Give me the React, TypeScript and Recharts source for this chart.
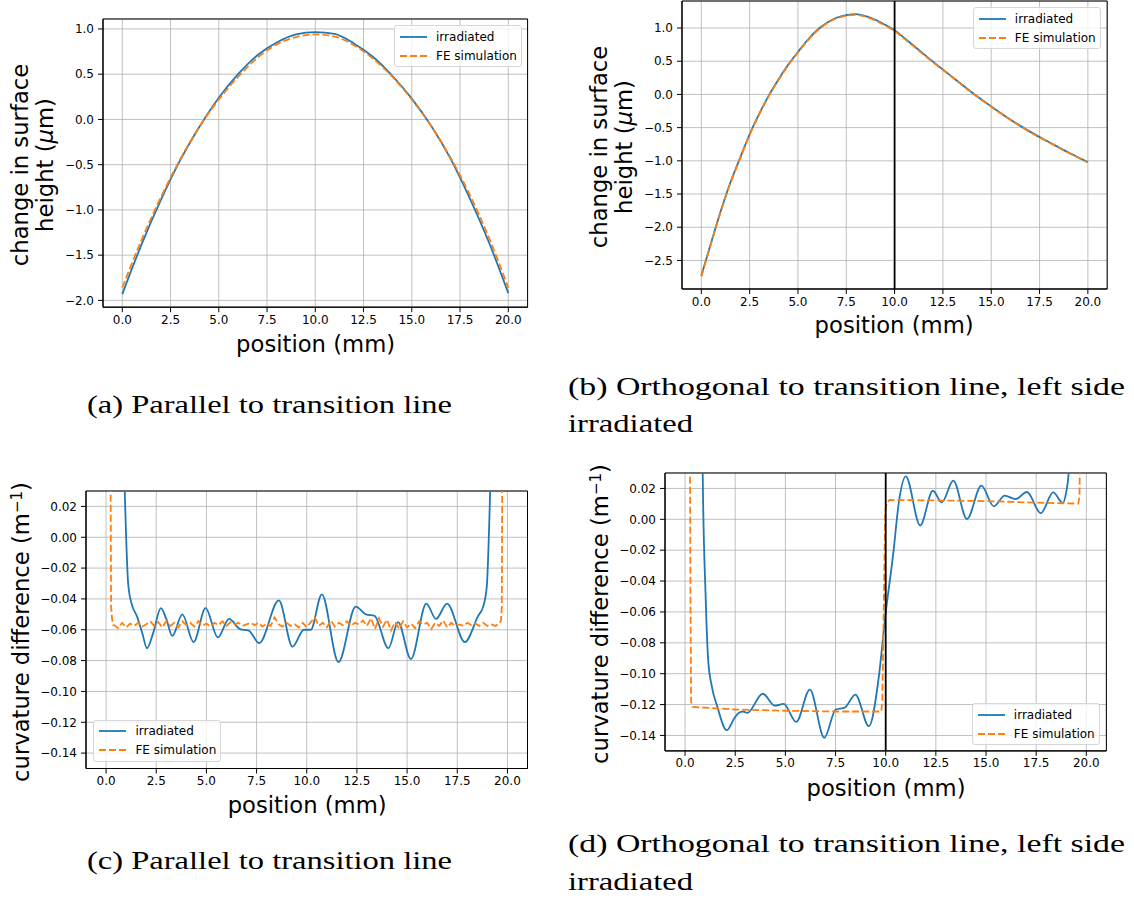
import React from 'react';
import {
  LineChart,
  Line,
  XAxis,
  YAxis,
  CartesianGrid,
  ReferenceLine,
  ReferenceArea,
  Legend,
} from 'recharts';

const BLUE = '#1f77b4';
const ORANGE = '#ff7f0e';
const SANS = '"DejaVu Sans", Verdana, sans-serif';
const SERIF = '"Liberation Serif", "Times New Roman", serif';
const FE_DASH = '7 3';

// shared x axis (position along the sample, mm)
const positionTicks = [0, 2.5, 5, 7.5, 10, 12.5, 15, 17.5, 20];
const positionDomain: [number, number] = [-1, 21];

// (a) surface height, profile parallel to the transition line
const parPos = [0, 1, 2, 3, 4, 5, 6, 7, 8, 9, 10, 11, 12, 13, 14, 15, 16, 17, 18, 19, 20];
const parHeightIrr = [-1.93, -1.38, -0.89, -0.45, -0.08, 0.24, 0.5, 0.71, 0.85, 0.94, 0.965, 0.945, 0.84, 0.69, 0.48, 0.23, -0.07, -0.43, -0.87, -1.36, -1.92];
const parHeightFe = [-1.86, -1.33, -0.86, -0.44, -0.08, 0.22, 0.47, 0.68, 0.83, 0.91, 0.94, 0.915, 0.82, 0.67, 0.47, 0.22, -0.07, -0.42, -0.83, -1.31, -1.86];
const parHeightTicks = [-2, -1.5, -1, -0.5, 0, 0.5, 1];

// (b) surface height, profile orthogonal to the transition line
const orthPos = [0, 0.5, 1, 1.5, 2, 2.5, 3, 3.5, 4, 4.5, 5, 5.5, 6, 6.5, 7, 7.5, 8, 8.5, 9, 9.5, 10, 10.5, 11, 11.5, 12, 13, 14, 15, 16, 17, 18, 19, 20];
const orthHeightIrr = [-2.73, -2.24, -1.76, -1.33, -0.96, -0.6, -0.29, -0.01, 0.23, 0.45, 0.64, 0.82, 0.97, 1.08, 1.155, 1.195, 1.21, 1.18, 1.125, 1.05, 0.965, 0.85, 0.73, 0.61, 0.49, 0.26, 0.03, -0.18, -0.38, -0.56, -0.72, -0.875, -1.02];
const orthHeightFe = [-2.74, -2.25, -1.77, -1.34, -0.97, -0.61, -0.3, -0.02, 0.22, 0.44, 0.63, 0.81, 0.96, 1.07, 1.145, 1.185, 1.198, 1.17, 1.115, 1.04, 0.955, 0.84, 0.72, 0.6, 0.48, 0.255, 0.025, -0.185, -0.385, -0.565, -0.725, -0.88, -1.025];
const orthHeightTicks = [-2.5, -2, -1.5, -1, -0.5, 0, 0.5, 1];

// (c) curvature difference, parallel profile
const parCurvIrrPos = [0.86, 0.93, 1.0, 1.1, 1.27, 1.53, 1.8, 2.04, 2.35, 2.73, 3.0, 3.3, 3.8, 4.36, 4.96, 5.57, 6.13, 6.68, 7.11, 7.63, 8.61, 9.29, 9.86, 10.2, 10.75, 11.58, 12.44, 12.95, 13.38, 14.07, 14.55, 15.19, 15.96, 16.44, 16.99, 17.88, 18.54, 18.79, 18.97, 19.14, 19.2];
const parCurvIrr = [0.055, 0.03, 0.0, -0.03, -0.043, -0.051, -0.062, -0.072, -0.062, -0.046, -0.053, -0.064, -0.05, -0.068, -0.046, -0.065, -0.053, -0.0596, -0.0605, -0.0687, -0.041, -0.071, -0.06, -0.06, -0.037, -0.081, -0.045, -0.05, -0.051, -0.072, -0.055, -0.079, -0.043, -0.053, -0.043, -0.068, -0.051, -0.045, -0.032, 0.03, 0.06];
const parCurvFePos = [0.22, 0.25, 0.3, 0.36, 0.4, 0.6, 0.8, 1.0, 1.2, 1.4, 1.6, 1.8, 2.0, 2.2, 2.4, 2.6, 2.8, 3.0, 3.2, 3.4, 3.6, 3.8, 4.0, 4.2, 4.4, 4.6, 4.8, 5.0, 5.2, 5.4, 5.6, 5.8, 6.0, 6.2, 6.4, 6.6, 6.8, 7.0, 7.2, 7.4, 7.6, 7.8, 8.0, 8.2, 8.4, 8.6, 8.8, 9.0, 9.2, 9.4, 9.6, 9.8, 10.0, 10.2, 10.4, 10.6, 10.8, 11.0, 11.2, 11.4, 11.6, 11.8, 12.0, 12.2, 12.4, 12.6, 12.8, 13.0, 13.2, 13.4, 13.6, 13.8, 14.0, 14.2, 14.4, 14.6, 14.8, 15.0, 15.2, 15.4, 15.6, 15.8, 16.0, 16.2, 16.4, 16.6, 16.8, 17.0, 17.2, 17.4, 17.6, 17.8, 18.0, 18.2, 18.4, 18.6, 18.8, 19.0, 19.2, 19.4, 19.6, 19.68, 19.72, 19.74, 19.76];
const parCurvFe = [0.06, -0.045, -0.053, -0.057, -0.057, -0.059, -0.0555, -0.0585, -0.056, -0.0575, -0.0555, -0.058, -0.0565, -0.0545, -0.0575, -0.055, -0.0585, -0.0545, -0.0575, -0.0555, -0.0585, -0.0545, -0.057, -0.0555, -0.058, -0.0545, -0.0575, -0.056, -0.058, -0.0555, -0.057, -0.0545, -0.0575, -0.055, -0.0565, -0.0555, -0.0575, -0.0565, -0.0555, -0.057, -0.0555, -0.058, -0.056, -0.0575, -0.052, -0.0565, -0.058, -0.0555, -0.0575, -0.0565, -0.0585, -0.0555, -0.0585, -0.055, -0.052, -0.0575, -0.0555, -0.0585, -0.054, -0.058, -0.0555, -0.057, -0.0545, -0.0575, -0.0555, -0.0565, -0.054, -0.0575, -0.0525, -0.0595, -0.0525, -0.058, -0.0535, -0.0605, -0.055, -0.0595, -0.0545, -0.0585, -0.056, -0.059, -0.0545, -0.0565, -0.0555, -0.0595, -0.0555, -0.0575, -0.054, -0.0585, -0.0555, -0.0575, -0.0565, -0.0575, -0.0555, -0.057, -0.056, -0.0575, -0.0555, -0.0575, -0.0565, -0.0575, -0.056, -0.054, -0.045, 0.03, 0.06];

// (d) curvature difference, orthogonal profile
const orthCurvIrrPos = [0.86, 0.88, 1.02, 1.15, 1.33, 1.6, 2.08, 2.45, 2.67, 2.9, 3.1, 3.87, 4.48, 4.91, 5.54, 6.22, 6.94, 7.51, 7.96, 8.49, 9.16, 9.66, 9.98, 10.38, 10.65, 11.0, 11.72, 12.35, 12.8, 13.37, 14.05, 14.77, 15.39, 15.93, 16.47, 17.04, 17.73, 18.35, 18.83, 19.0, 19.12, 19.18];
const orthCurvIrr = [0.06, 0.03, -0.0477, -0.0909, -0.108, -0.121, -0.1366, -0.129, -0.1254, -0.1245, -0.1254, -0.113, -0.1207, -0.1196, -0.1312, -0.1103, -0.1415, -0.1232, -0.122, -0.1135, -0.134, -0.1017, -0.0628, -0.0218, 0.0105, 0.0278, -0.004, 0.0185, 0.011, 0.025, 0.0002, 0.0218, 0.0084, 0.0153, 0.0131, 0.0177, 0.004, 0.0174, 0.0106, 0.018, 0.03, 0.06];
const orthCurvFePos = [0.24, 0.27, 0.3, 0.38, 2.5, 5.0, 7.5, 9.6, 9.78, 9.83, 9.9, 9.98, 10.05, 10.2, 12.5, 15.0, 17.5, 19.6, 19.66, 19.7];
const orthCurvFe = [0.06, -0.05, -0.118, -0.1215, -0.1232, -0.124, -0.1245, -0.1245, -0.1245, -0.118, -0.06, 0.005, 0.011, 0.0125, 0.0122, 0.0118, 0.0108, 0.0102, 0.015, 0.06];

const curvTicks = [-0.14, -0.12, -0.1, -0.08, -0.06, -0.04, -0.02, 0, 0.02];
const curvDomain: [number, number] = [-0.15, 0.03];

// legend entries, in drawing order
const seriesNames = ['irradiated', 'FE simulation'];
const legendStyles: Record<string, { color: string; dash?: string }> = {
  irradiated: { color: BLUE },
  'FE simulation': { color: ORANGE, dash: FE_DASH },
};

const zip = (xs: number[], ys: number[]) => xs.map((x, i) => ({ x, y: ys[i] }));
const fmt = (digits: number) => (v: number) => v.toFixed(digits).replace('-', '\u2212');

const YW = 60;
const XH = 30;
const MT = 8;
const MR = 10;

type Box = { left: number; top: number; width: number; height: number };
type Corner = 'ur' | 'll' | 'lr';

function LegendBox(props: any) {
  const payload = [...(props.payload || [])].sort(
    (a: any, b: any) => seriesNames.indexOf(a.value) - seriesNames.indexOf(b.value)
  );
  return (
    <div
      style={{
        border: '1px solid #d6d6d6',
        borderRadius: 3,
        background: 'rgba(255,255,255,0.8)',
        padding: '1px 4px 1px 5px',
        fontFamily: SANS,
        fontSize: 12,
        color: '#000',
        whiteSpace: 'nowrap',
      }}
    >
      {payload.map((p: any) => {
        const st = legendStyles[p.value] || { color: p.color };
        return (
          <div key={p.value} style={{ display: 'flex', alignItems: 'center', height: 19 }}>
            <svg width={27} height={4} style={{ display: 'block' }}>
              <line x1={0} y1={2} x2={27} y2={2} stroke={st.color} strokeWidth={1.8} strokeDasharray={st.dash} />
            </svg>
            <span style={{ marginLeft: 9 }}>{p.value}</span>
          </div>
        );
      })}
    </div>
  );
}

function legendPlacement(corner: Corner): React.CSSProperties {
  if (corner === 'ur') return { top: MT + 6, right: MR + 6, left: 'auto', bottom: 'auto', width: 'auto', height: 'auto' };
  if (corner === 'll') return { top: 'auto', bottom: XH + 7, left: YW + 7, right: 'auto', width: 'auto', height: 'auto' };
  return { top: 'auto', bottom: XH + 6, right: MR + 7, left: 'auto', width: 'auto', height: 'auto' };
}

type PanelProps = {
  box: Box;
  yDomain: [number, number];
  yTicks: number[];
  yDigits: number;
  irr: { x: number; y: number }[];
  fe: { x: number; y: number }[];
  feCurve: 'monotone' | 'linear';
  legend: Corner;
  divider?: boolean;
  yLabel: React.ReactNode;
  yLabelOffset: number;
  xLabelOffset: number;
};

function Panel({ box, yDomain, yTicks, yDigits, irr, fe, feCurve, legend, divider, yLabel, yLabelOffset, xLabelOffset }: PanelProps) {
  const { left, top, width, height } = box;
  const tickStyle = { fill: '#000', fontSize: 12, fontFamily: SANS };
  return (
    <>
      <div style={{ position: 'absolute', left: left - YW, top: top - MT }}>
        <LineChart width={width + YW + MR} height={height + MT + XH} margin={{ top: MT, right: MR, bottom: 0, left: 0 }}>
          <CartesianGrid stroke="#b0b0b0" strokeWidth={0.8} />
          <XAxis
            type="number"
            dataKey="x"
            domain={positionDomain}
            ticks={positionTicks}
            interval={0}
            allowDataOverflow
            height={XH}
            tickFormatter={fmt(1)}
            tick={tickStyle}
            tickSize={5}
            tickMargin={3}
            axisLine={{ stroke: '#000' }}
            tickLine={{ stroke: '#000' }}
          />
          <YAxis
            type="number"
            dataKey="y"
            domain={yDomain}
            ticks={yTicks}
            interval={0}
            allowDataOverflow
            width={YW}
            tickFormatter={fmt(yDigits)}
            tick={tickStyle}
            tickSize={5}
            tickMargin={4}
            axisLine={{ stroke: '#000' }}
            tickLine={{ stroke: '#000' }}
          />
          <Line
            data={irr}
            dataKey="y"
            name="irradiated"
            type="monotone"
            stroke={BLUE}
            strokeWidth={1.8}
            dot={false}
            activeDot={false}
            isAnimationActive={false}
          />
          <Line
            data={fe}
            dataKey="y"
            name="FE simulation"
            type={feCurve}
            stroke={ORANGE}
            strokeWidth={1.8}
            strokeDasharray={FE_DASH}
            dot={false}
            activeDot={false}
            isAnimationActive={false}
          />
          {divider && <ReferenceLine x={10} stroke="#000" strokeWidth={1.8} />}
          <ReferenceArea
            x1={positionDomain[0]}
            x2={positionDomain[1]}
            y1={yDomain[0]}
            y2={yDomain[1]}
            fill="none"
            stroke="#000"
            strokeWidth={1}
          />
          <Legend
            layout="vertical"
            align="center"
            verticalAlign="middle"
            content={<LegendBox />}
            wrapperStyle={legendPlacement(legend)}
          />
        </LineChart>
      </div>
      <div
        style={{
          position: 'absolute',
          left: left + width / 2,
          top: top + height + xLabelOffset,
          transform: 'translate(-50%, -50%)',
          fontFamily: SANS,
          fontSize: 22.7,
          whiteSpace: 'nowrap',
          color: '#000',
        }}
      >
        position (mm)
      </div>
      <div
        style={{
          position: 'absolute',
          left: left - yLabelOffset,
          top: top + height / 2 + 2,
          transform: 'translate(-50%, -50%) rotate(-90deg)',
          fontFamily: SANS,
          fontSize: 22.7,
          lineHeight: '25px',
          textAlign: 'center',
          whiteSpace: 'nowrap',
          color: '#000',
        }}
      >
        {yLabel}
      </div>
    </>
  );
}

const heightLabel = (
  <>
    change in surface
    <br />
    height (<i>μ</i>m)
  </>
);

const curvLabel = (
  <>
    curvature difference (m<sup style={{ fontSize: 15, verticalAlign: 'top', position: 'relative', top: -4 }}>−1</sup>)
  </>
);

export default function App() {
  const captionStyle = { fontFamily: SERIF, fontSize: 25, fill: '#000' };
  return (
    <div style={{ position: 'absolute', left: 0, top: 0, width: 1134, height: 898, background: '#fff', overflow: 'hidden' }}>
      <Panel
        box={{ left: 103.3, top: 19.3, width: 424.6, height: 288.2 }}
        yDomain={[-2.075, 1.11]}
        yTicks={parHeightTicks}
        yDigits={1}
        irr={zip(parPos, parHeightIrr)}
        fe={zip(parPos, parHeightFe)}
        feCurve="monotone"
        legend="ur"
        yLabel={heightLabel}
        yLabelOffset={70.5}
        xLabelOffset={36}
      />
      <Panel
        box={{ left: 681.5, top: 1.3, width: 425.2, height: 288 }}
        yDomain={[-2.93, 1.407]}
        yTicks={orthHeightTicks}
        yDigits={1}
        irr={zip(orthPos, orthHeightIrr)}
        fe={zip(orthPos, orthHeightFe)}
        feCurve="monotone"
        legend="ur"
        divider
        yLabel={heightLabel}
        yLabelOffset={70}
        xLabelOffset={36}
      />
      <Panel
        box={{ left: 86.4, top: 491.3, width: 441.5, height: 277.5 }}
        yDomain={curvDomain}
        yTicks={curvTicks}
        yDigits={2}
        irr={zip(parCurvIrrPos, parCurvIrr)}
        fe={zip(parCurvFePos, parCurvFe)}
        feCurve="linear"
        legend="ll"
        yLabel={curvLabel}
        yLabelOffset={65}
        xLabelOffset={36}
      />
      <Panel
        box={{ left: 665.3, top: 473.3, width: 441.4, height: 277.9 }}
        yDomain={curvDomain}
        yTicks={curvTicks}
        yDigits={2}
        irr={zip(orthCurvIrrPos, orthCurvIrr)}
        fe={zip(orthCurvFePos, orthCurvFe)}
        feCurve="linear"
        legend="lr"
        divider
        yLabel={curvLabel}
        yLabelOffset={65.5}
        xLabelOffset={37}
      />
      <svg width={1134} height={898} style={{ position: 'absolute', left: 0, top: 0, pointerEvents: 'none' }}>
        <text x={87} y={413} textLength={365} lengthAdjust="spacingAndGlyphs" style={captionStyle}>
          (a) Parallel to transition line
        </text>
        <text x={568} y={395} textLength={557} lengthAdjust="spacingAndGlyphs" style={captionStyle}>
          (b) Orthogonal to transition line, left side
        </text>
        <text x={568} y={432} textLength={125} lengthAdjust="spacingAndGlyphs" style={captionStyle}>
          irradiated
        </text>
        <text x={87} y={869} textLength={365} lengthAdjust="spacingAndGlyphs" style={captionStyle}>
          (c) Parallel to transition line
        </text>
        <text x={568} y={852} textLength={557} lengthAdjust="spacingAndGlyphs" style={captionStyle}>
          (d) Orthogonal to transition line, left side
        </text>
        <text x={568} y={890} textLength={125} lengthAdjust="spacingAndGlyphs" style={captionStyle}>
          irradiated
        </text>
      </svg>
    </div>
  );
}
